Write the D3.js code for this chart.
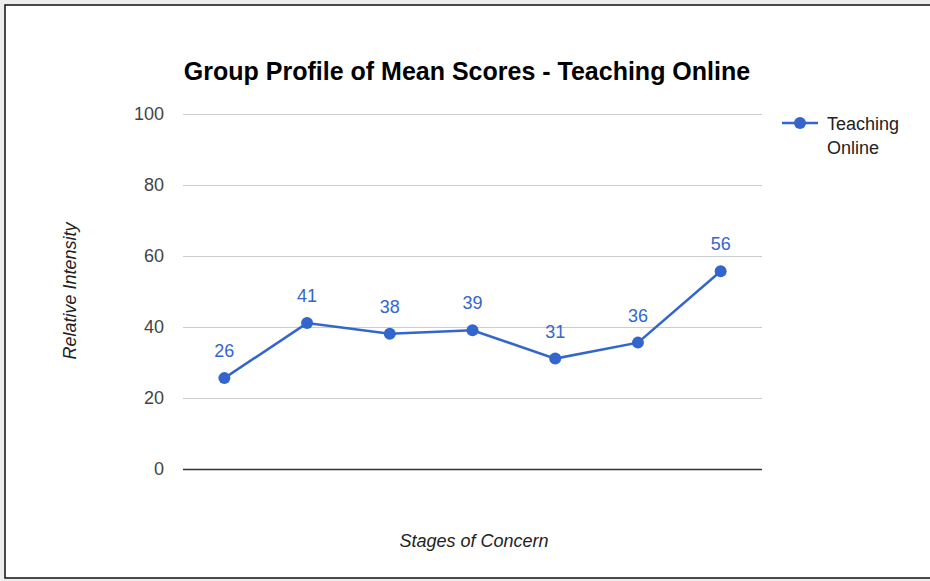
<!DOCTYPE html>
<html><head><meta charset="utf-8">
<script src="https://cdn.jsdelivr.net/npm/d3@7"></script>
<style>body{margin:0;background:#fff}svg{display:block}</style>
</head><body>
<svg id="c" width="930" height="581"></svg>
<script>
const categories = ["S0","S1","S2","S3","S4","S5","S6"];
const values = [25.6, 41.1, 38.1, 39.1, 31.1, 35.6, 55.7];
const labels = ["26","41","38","39","31","36","56"];
const yTicks = [0,20,40,60,80,100];
const title = "Group Profile of Mean Scores - Teaching Online";
const seriesName = ["Teaching","Online"];
const xTitle = "Stages of Concern";
const yTitle = "Relative Intensity";

const svg = d3.select("#c");
const font = "Arial, 'Liberation Sans', sans-serif";
const blue = "#3366cc";

// frame
svg.append("rect").attr("x",0).attr("y",0).attr("width",930).attr("height",581).attr("fill","#eeeeee");
svg.append("rect").attr("x",5).attr("y",5).attr("width",930).attr("height",573).attr("fill","#fff").attr("stroke","#111").attr("stroke-width",1.5);

const x = d3.scaleBand().domain(categories).range([183,762]);
const y = d3.scaleLinear().domain([0,100]).range([469,114]);

// grid
const yAxis = d3.axisLeft(y).tickValues(yTicks).tickSize(-(762-183)).tickPadding(19);
const gy = svg.append("g").attr("transform","translate(183,0)").call(yAxis);
gy.select(".domain").remove();
gy.selectAll(".tick line").attr("stroke",d=>d===0?"#333":"#cccccc").attr("stroke-width",d=>d===0?1.5:1);
gy.selectAll(".tick text").attr("fill","#444").attr("font-size",18).attr("font-family",font);

svg.append("text").attr("x",467).attr("y",80).attr("text-anchor","middle")
  .attr("font-family",font).attr("font-weight","bold").attr("font-size",25).attr("fill","#000").text(title);

const cx = d => x(d) + x.bandwidth()/2;
const line = d3.line().x((d,i)=>cx(categories[i])).y(d=>y(d));
svg.append("path").datum(values).attr("d",line).attr("fill","none").attr("stroke",blue).attr("stroke-width",2.5);
svg.selectAll("circle.pt").data(values).join("circle").attr("class","pt")
  .attr("cx",(d,i)=>cx(categories[i])).attr("cy",d=>y(d)).attr("r",6).attr("fill",blue);
svg.selectAll("text.lbl").data(values).join("text").attr("class","lbl")
  .attr("x",(d,i)=>cx(categories[i])).attr("y",d=>y(d)-21).attr("text-anchor","middle")
  .attr("font-family",font).attr("font-size",18).attr("fill",blue).text((d,i)=>labels[i]);

// axis titles
svg.append("text").attr("x",474).attr("y",547).attr("text-anchor","middle").attr("font-family",font)
  .attr("font-style","italic").attr("font-size",18).attr("fill","#222").text(xTitle);
svg.append("text").attr("transform","translate(76,291) rotate(-90)").attr("text-anchor","middle").attr("font-family",font)
  .attr("font-style","italic").attr("font-size",18).attr("fill","#222").text(yTitle);

// legend
svg.append("line").attr("x1",782).attr("x2",818).attr("y1",123).attr("y2",123).attr("stroke",blue).attr("stroke-width",2.5);
svg.append("circle").attr("cx",800).attr("cy",123).attr("r",6).attr("fill",blue);
svg.selectAll("text.leg").data(seriesName).join("text").attr("class","leg")
  .attr("x",827).attr("y",(d,i)=>130+i*24).attr("font-family",font).attr("font-size",18).attr("fill","#222").text(d=>d);
</script>
</body></html>
